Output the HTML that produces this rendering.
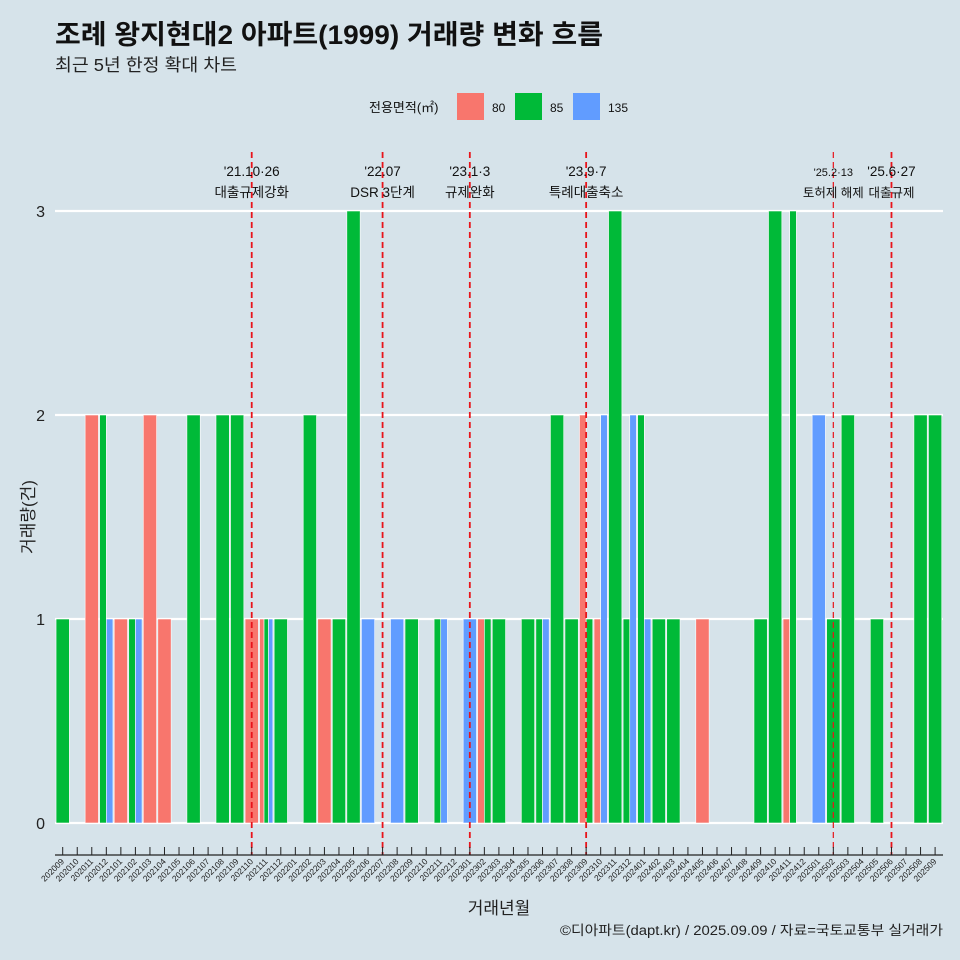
<!DOCTYPE html>
<html><head><meta charset="utf-8">
<style>
html,body{margin:0;padding:0;background:#d6e3ea;}
svg{display:block;font-family:"Liberation Sans","Noto Sans CJK KR",sans-serif;}
</style></head>
<body>
<svg id="chart" width="960" height="960" viewBox="0 0 960 960">
<rect width="960" height="960" fill="#d6e3ea"/>
<text x="55" y="44" font-size="27" font-weight="bold" fill="#111" textLength="548" lengthAdjust="spacingAndGlyphs">조례 왕지현대2 아파트(1999) 거래량 변화 흐름</text>
<text x="55" y="71" font-size="17.5" fill="#222" textLength="182" lengthAdjust="spacingAndGlyphs">최근 5년 한정 확대 차트</text>
<g>
<text x="369" y="112" font-size="13" fill="#111">전용면적(㎡)</text>
<rect x="457" y="93" width="27" height="27" fill="#f8766d"/>
<text x="492" y="112" font-size="12" fill="#111">80</text>
<rect x="515" y="93" width="27" height="27" fill="#00ba38"/>
<text x="550" y="112" font-size="12" fill="#111">85</text>
<rect x="573" y="93" width="27" height="27" fill="#619cff"/>
<text x="608" y="112" font-size="12" fill="#111">135</text>
</g>
<g id="grid"></g><g id="bars"></g><g id="events"></g><g id="axes"></g>
<text x="499" y="914" font-size="17" text-anchor="middle" fill="#222">거래년월</text>
<text transform="translate(34,517) rotate(-90)" font-size="17" text-anchor="middle" fill="#222">거래량(건)</text>
<text x="943" y="935" font-size="13.5" text-anchor="end" fill="#222" textLength="383" lengthAdjust="spacingAndGlyphs">©디아파트(dapt.kr) / 2025.09.09 / 자료=국토교통부 실거래가</text>
</svg>
<script>
const months=["202009","202010","202011","202012","202101","202102","202103","202104","202105","202106","202107","202108","202109","202110","202111","202112","202201","202202","202203","202204","202205","202206","202207","202208","202209","202210","202211","202212","202301","202302","202303","202304","202305","202306","202307","202308","202309","202310","202311","202312","202401","202402","202403","202404","202405","202406","202407","202408","202409","202410","202411","202412","202501","202502","202503","202504","202505","202506","202507","202508","202509"];
const areas=["80","85","135"];
const colors=["#f8766d","#00ba38","#619cff"];
const v80 =[0,0,2,0,1,0,2,1,0,0,0,0,0,1,1,0,0,0,1,0,0,0,0,0,0,0,0,0,0,1,0,0,0,0,0,0,2,1,0,0,0,0,0,0,1,0,0,0,0,0,1,0,0,0,0,0,0,0,0,0,0];
const v85 =[1,0,0,2,0,1,0,0,0,2,0,2,2,0,1,1,0,2,0,1,3,0,0,0,1,0,1,0,0,1,1,0,1,1,2,1,1,0,3,1,2,1,1,0,0,0,0,0,1,3,3,0,0,1,2,0,1,0,0,2,2];
const v135=[0,0,0,1,0,1,0,0,0,0,0,0,0,0,1,0,0,0,0,0,0,1,0,1,0,0,1,0,1,0,0,0,0,1,0,0,0,2,0,2,1,0,0,0,0,0,0,0,0,0,0,0,2,0,0,0,0,0,0,0,0];
const yTicks=[0,1,2,3];
const eventMonths=["202110","202207","202301","202309","202502","202506"];
const eventLine1=["'21.10·26","'22.07","'23.1·3","'23.9·7","'25.2·13","'25.6·27"];
const eventLine2=["대출규제강화","DSR 3단계","규제완화","특례대출축소","토허제 해제","대출규제"];

const NS="http://www.w3.org/2000/svg";
const x0=62.7, step=14.54, y0=823, unit=204, band=13.3, left=55, right=943;
const X=i=>x0+step*i, Y=v=>y0-unit*v;
function mk(tag,attrs,parent){const e=document.createElementNS(NS,tag);for(const k in attrs)e.setAttribute(k,attrs[k]);parent.appendChild(e);return e;}
const grid=document.getElementById('grid'),bars=document.getElementById('bars'),ev=document.getElementById('events'),axes=document.getElementById('axes');
yTicks.forEach(t=>{
  const l=mk('line',{x1:left,x2:right,y1:Y(t),y2:Y(t),stroke:'#fff','stroke-width':2.2},grid);
  
  
  const tx=mk('text',{x:45,y:Y(t)+6,'font-size':16,'text-anchor':'end',fill:'#222'},axes);
  tx.textContent=t;
  
  
});
const series=[v80,v85,v135];
months.forEach((m,i)=>{
  const present=[0,1,2].filter(g=>series[g][i]>0);
  const n=present.length; if(!n)return;
  const w=band/n;
  present.forEach((g,k)=>{
    const v=series[g][i];
    const r=mk('rect',{x:X(i)-band/2+k*w,y:Y(v),width:w,height:unit*v,fill:colors[g],stroke:'#fff','stroke-width':0.6},bars);
    
    
  });
});
eventMonths.forEach((m,j)=>{
  const i=months.indexOf(m); const x=X(i);
  const thin=(m==="202502");
  const late=(m==="202502"||m==="202506");
  const l=mk('line',{x1:x,x2:x,y1:152,y2:855,stroke:'#e8141b','stroke-width':thin?1.2:1.8,'stroke-dasharray':'6,4'},ev);
  
  
  const t1=mk('text',{x:x,y:176,'font-size':thin?11:13.5,'text-anchor':'middle',fill:'#111'},ev);
  t1.textContent=eventLine1[j];
  
  
  const t2=mk('text',{x:x,y:197,'font-size':late?12.5:13.5,'text-anchor':'middle',fill:'#111'},ev);
  t2.textContent=eventLine2[j];
  
  
});
const ax=mk('line',{x1:left,x2:right,y1:855,y2:855,stroke:'#222','stroke-width':1.3},axes);


months.forEach((m,i)=>{
  const x=X(i);
  const tk=mk('line',{x1:x,x2:x,y1:847,y2:855,stroke:'#222','stroke-width':1},axes);
  
  
  const t=mk('text',{transform:`translate(${x+2},${862}) rotate(-45)`,'font-size':8.5,'text-anchor':'end',fill:'#222'},axes);
  t.textContent=m;
  
  
});
</script>
</body></html>
